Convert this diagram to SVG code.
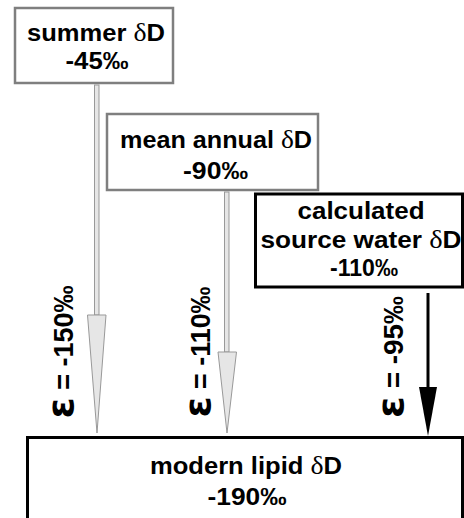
<svg xmlns="http://www.w3.org/2000/svg" width="464" height="518" viewBox="0 0 464 518">
<style>
.t{font-family:"Liberation Sans",Arial,sans-serif;font-weight:bold;font-size:23px;fill:#000;text-anchor:middle}
.r{font-size:27px}
.g{font-family:"Liberation Serif","Times New Roman",serif;font-weight:normal;font-size:25px}
.e{font-family:"DejaVu Sans",sans-serif;font-weight:bold;font-size:38px}
.gb{fill:#fff;stroke:#7f7f7f;stroke-width:2.5}
.kb{fill:#fff;stroke:#000;stroke-width:3}
.ga{fill:#e6e6e6;stroke:#999;stroke-width:1}
</style>
<rect width="464" height="518" fill="#fff"/>
<g id="connectors">
<g id="arrow-summer">
<rect class="ga" x="94.5" y="85" width="4.5" height="230"/>
<polygon class="ga" points="87.5,315 106,315 97,433"/>
</g>
<g id="arrow-annual">
<rect class="ga" x="224.5" y="192" width="4.5" height="160"/>
<polygon class="ga" points="218,352 236.5,352 227,433"/>
</g>
<g id="arrow-source">
<line x1="428" y1="293" x2="428" y2="390" stroke="#000" stroke-width="3"/>
<polygon points="419,387 437,387 428,436" fill="#000"/>
</g>
</g>
<g id="labels">
<text class="t r" transform="translate(73,352) rotate(-90)" textLength="133" lengthAdjust="spacingAndGlyphs"><tspan class="e">ε</tspan> = -150‰</text>
<text class="t r" transform="translate(210,352) rotate(-90)" textLength="131" lengthAdjust="spacingAndGlyphs"><tspan class="e">ε</tspan> = -110‰</text>
<text class="t r" transform="translate(403,357) rotate(-90)" textLength="122" lengthAdjust="spacingAndGlyphs"><tspan class="e">ε</tspan> = -95‰</text>
</g>
<g id="summer">
<rect class="gb" x="15" y="8" width="158" height="75"/>
<text class="t" x="96" y="41" textLength="138" lengthAdjust="spacingAndGlyphs">summer <tspan class="g">δ</tspan>D</text>
<text class="t" x="97" y="69" textLength="63" lengthAdjust="spacingAndGlyphs">-45‰</text>
</g>
<g id="annual">
<rect class="gb" x="107" y="114" width="211" height="76"/>
<text class="t" x="216" y="148" textLength="192" lengthAdjust="spacingAndGlyphs">mean annual <tspan class="g">δ</tspan>D</text>
<text class="t" x="215.5" y="179" textLength="65" lengthAdjust="spacingAndGlyphs">-90‰</text>
</g>
<g id="source">
<rect class="kb" x="255.5" y="194" width="207" height="93"/>
<text class="t" x="361" y="219" textLength="127" lengthAdjust="spacingAndGlyphs">calculated</text>
<text class="t" x="361" y="248" textLength="201" lengthAdjust="spacingAndGlyphs">source water <tspan class="g">δ</tspan>D</text>
<text class="t" x="364" y="276" textLength="68" lengthAdjust="spacingAndGlyphs">-110‰</text>
</g>
<g id="lipid">
<rect class="kb" x="27.5" y="437.5" width="435" height="90"/>
<text class="t" x="246" y="474" textLength="192" lengthAdjust="spacingAndGlyphs">modern lipid <tspan class="g">δ</tspan>D</text>
<text class="t" x="247" y="505" textLength="79" lengthAdjust="spacingAndGlyphs">-190‰</text>
</g>
</svg>
